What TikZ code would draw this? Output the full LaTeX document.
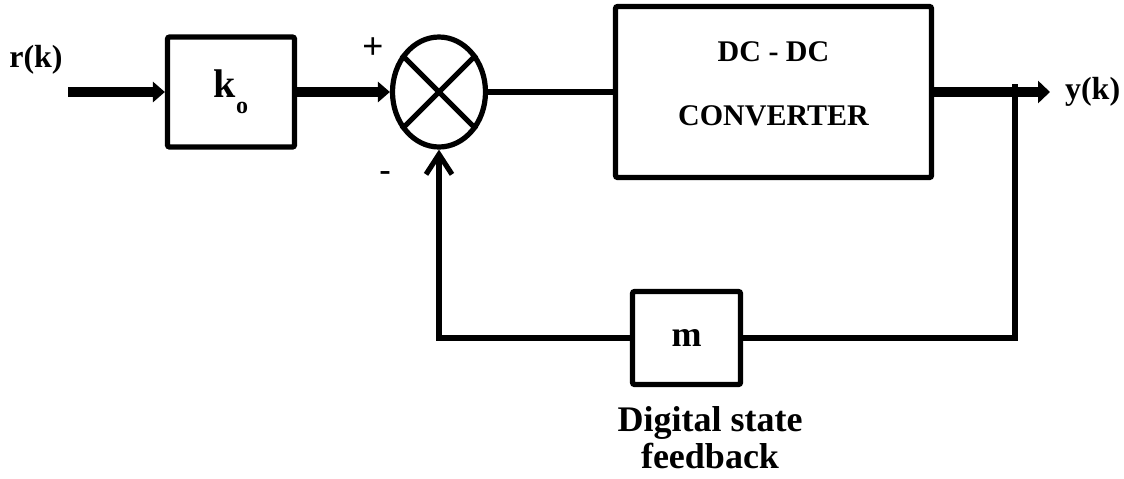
\documentclass[tikz,border=0pt]{standalone}
\usepackage{fontspec}
\setmainfont{Liberation Serif}
\newfontfamily\signfont{Liberation Sans}
\usetikzlibrary{positioning,shapes.geometric,arrows.meta}
\tikzset{blk/.style={draw,rectangle,line width=2.6pt,rounded corners=1pt,inner sep=0pt,font=\bfseries\fontsize{16}{16}\selectfont},sumnode/.style={draw,ellipse,line width=2.6pt,minimum width=46.5pt,minimum height=55pt,inner sep=0pt},sig/.style={line width=5pt,-{Triangle[length=6pt,width=10pt]}},fb/.style={line width=2.6pt},lbl/.style={font=\bfseries\fontsize{16}{16}\selectfont},convtxt/.style={align=center,font=\bfseries\fontsize{15}{32}\selectfont},sign/.style={font=\signfont\fontsize{18}{18}\selectfont}}

\begin{document}
\begin{tikzpicture}[x=0.5pt,y=-0.5pt]
\useasboundingbox (0,0) rectangle (1124,478);
\node[blk,minimum width=63.5pt,minimum height=55pt,font=\bfseries\fontsize{20}{20}\selectfont] (k) at (231,92) {k\raisebox{-8pt}{\fontsize{12}{12}\selectfont o}};
\node[sumnode] (s) at (439,92) {};
\node[blk,minimum width=158pt,minimum height=85.5pt,label={[convtxt,yshift=4pt]center:DC - DC\\CONVERTER}] (c) at (773.5,92) {};
\node[blk,minimum width=54pt,minimum height=46.5pt,font=\bfseries\fontsize{18}{18}\selectfont] (m) at (686.5,338) {m};
\coordinate (in) at (68,92);\coordinate (out) at (1050,92);\coordinate (tap) at (1015,84);
\node[lbl] (r) at (36,60) {r(k)};\node[lbl,right=4pt of out] (y) {y(k)};
\node[sign] (plus) at (373,48) {+};\node[sign] (minus) at (385,177) {-};
\node[align=center,font=\bfseries\fontsize{18}{18.5}\selectfont] (dsf) at (710,438) {Digital state\\feedback};
\draw[fb] (s.45)--(s.225) (s.135)--(s.315);
\draw[sig] (in)--(k);\draw[sig] (k)--(s);
\draw[fb] (s)--(c);\draw[sig,-{Triangle[length=6pt,width=11pt]}] (c)--(out);
\draw[fb] (tap)|-(m);
\draw[fb,-{Straight Barb[length=10pt,width=13pt]}] (m)-|(s);
\end{tikzpicture}
\end{document}
